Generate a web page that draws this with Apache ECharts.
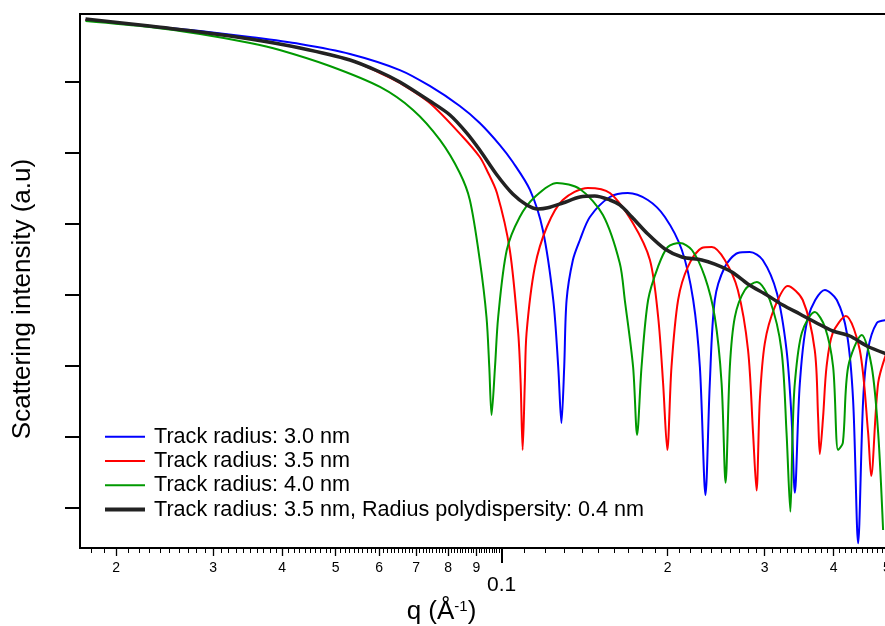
<!DOCTYPE html>
<html>
<head>
<meta charset="utf-8">
<script src="https://cdn.jsdelivr.net/npm/echarts@6/dist/echarts.min.js"></script>
<style>
  html, body { margin: 0; padding: 0; background: #fff; }
  #chart { width: 885px; height: 626px; }
</style>
</head>
<body>
<div id="chart"></div>
<script>
// Scattering curves of latent ion tracks: [q (1/Å), intensity (a.u.)]
const seriesNames = [
  'Track radius: 3.0 nm',
  'Track radius: 3.5 nm',
  'Track radius: 4.0 nm',
  'Track radius: 3.5 nm, Radius polydispersity: 0.4 nm'
];
const seriesColors = ['#0000ff', '#ff0000', '#009900', '#222222'];

const track30 = [
  [0.0176, 0.742], [0.0230, 0.611], [0.0284, 0.519], [0.0350, 0.427], [0.0431, 0.340],
  [0.0531, 0.246], [0.0654, 0.146], [0.0741, 0.0871], [0.0840, 0.0455], [0.0913, 0.0262],
  [0.0993, 0.0128], [0.1048, 0.00738], [0.1126, 0.00298], [0.1188, 0.000812], [0.1241, 8.37e-5],
  [0.1267, 9.51e-6], [0.1284, 1.54e-6], [0.1299, 9.51e-6], [0.1312, 8.37e-5], [0.1347, 3.07e-4],
  [0.1387, 5.87e-4], [0.1446, 0.00124], [0.1572, 0.00237], [0.1694, 0.00270], [0.1842, 0.00215],
  [0.1978, 0.00124], [0.2123, 4.24e-4], [0.2226, 8.37e-5], [0.2289, 9.51e-6], [0.2343, 1.49e-7],
  [0.2386, 5.66e-6], [0.2436, 8.37e-5], [0.2540, 2.44e-4], [0.2682, 3.85e-4], [0.2819, 3.98e-4],
  [0.2976, 3.07e-4], [0.3157, 1.05e-4], [0.3287, 1.65e-5], [0.3356, 1.88e-6], [0.3403, 1.61e-7],
  [0.3475, 5.66e-6], [0.3597, 4.82e-5], [0.3858, 1.16e-4], [0.4055, 8.37e-5], [0.4228, 2.87e-5],
  [0.4340, 3.26e-6], [0.4432, 3.11e-8], [0.4526, 3.26e-6], [0.4616, 1.65e-5], [0.4792, 3.97e-5],
  [0.4995, 4.37e-5]
];

const track35 = [
  [0.0176, 0.742], [0.0230, 0.611], [0.0284, 0.503], [0.0350, 0.400], [0.0431, 0.299],
  [0.0531, 0.2025], [0.0602, 0.1328], [0.0654, 0.0960], [0.0741, 0.0501], [0.0851, 0.01663],
  [0.0913, 0.00868], [0.0940, 0.00570], [0.0981, 0.00270], [0.1035, 4.24e-4], [0.1072, 2.87e-5],
  [0.1083, 5.66e-6], [0.1092, 6.43e-7], [0.1102, 5.66e-6], [0.1110, 2.87e-5], [0.1149, 2.44e-4],
  [0.1208, 8.95e-4], [0.1291, 0.00215], [0.1434, 0.00318], [0.1572, 0.00270], [0.1730, 0.00102],
  [0.1858, 3.07e-4], [0.1923, 4.82e-5], [0.1963, 5.66e-6], [0.1998, 6.43e-7], [0.2033, 9.51e-6],
  [0.2090, 8.37e-5], [0.2176, 2.44e-4], [0.2307, 4.53e-4], [0.2406, 4.68e-4], [0.2540, 3.07e-4],
  [0.2682, 1.16e-4], [0.2799, 1.65e-5], [0.2858, 1.12e-6], [0.2900, 1.72e-7], [0.2940, 3.26e-6],
  [0.3002, 2.07e-5], [0.3130, 6.67e-5], [0.3304, 1.32e-4], [0.3517, 8.37e-5], [0.3698, 1.65e-5],
  [0.3750, 1.88e-6], [0.3777, 5.64e-7], [0.3829, 1.88e-6], [0.3884, 9.51e-6], [0.3987, 2.87e-5],
  [0.4210, 4.98e-5], [0.4463, 1.65e-5], [0.4621, 1.12e-6], [0.4680, 2.76e-7], [0.4819, 5.66e-6],
  [0.4995, 1.55e-5]
];

const track40 = [
  [0.0176, 0.718], [0.0230, 0.591], [0.0284, 0.471], [0.0350, 0.3516], [0.0396, 0.280],
  [0.0488, 0.1666], [0.0602, 0.0843], [0.0691, 0.0400], [0.0773, 0.0151],
  [0.0840, 0.00517], [0.0876, 0.00215], [0.0913, 3.07e-4], [0.0939, 4.82e-5], [0.0950, 9.51e-6],
  [0.0959, 2.00e-6], [0.0973, 9.51e-6], [0.0986, 4.82e-5], [0.1022, 4.24e-4], [0.1079, 0.00124],
  [0.1149, 0.00237], [0.1260, 0.00374], [0.1387, 0.00307], [0.1527, 0.00132], [0.1638, 2.78e-4],
  [0.1673, 8.37e-5], [0.1732, 9.51e-6], [0.1761, 1.05e-6], [0.1794, 9.51e-6], [0.1844, 8.37e-5],
  [0.1921, 2.44e-4], [0.2002, 4.68e-4], [0.2105, 5.32e-4], [0.2214, 4.24e-4], [0.2337, 1.77e-4],
  [0.2436, 4.82e-5], [0.2506, 5.66e-6], [0.2548, 2.22e-7], [0.2594, 9.51e-6], [0.2649, 4.82e-5],
  [0.2762, 1.16e-4], [0.2904, 1.50e-4], [0.3065, 8.37e-5], [0.3218, 1.65e-5], [0.3287, 1.12e-6],
  [0.3340, 8.67e-8], [0.3371, 1.12e-6], [0.3403, 5.66e-6], [0.3503, 2.87e-5], [0.3698, 5.67e-5],
  [0.3858, 3.48e-5], [0.3993, 9.51e-6], [0.4076, 6.43e-7], [0.4158, 8.07e-7], [0.4251, 9.51e-6],
  [0.4500, 2.69e-5], [0.4692, 9.51e-6], [0.4819, 1.12e-6], [0.4919, 4.79e-8]
];

const track35Poly = [
  [0.0176, 0.766], [0.0230, 0.611], [0.0284, 0.503], [0.0350, 0.400], [0.0431, 0.299],
  [0.0531, 0.2025], [0.0602, 0.1371], [0.0654, 0.0991], [0.0741, 0.0535], [0.0806, 0.0340],
  [0.0865, 0.0189], [0.0913, 0.0109], [0.0981, 0.00484], [0.1048, 0.00261], [0.1111, 0.00183],
  [0.1164, 0.00161], [0.1213, 0.00167], [0.1291, 0.00195], [0.1387, 0.00237], [0.1476, 0.00245],
  [0.1572, 0.00215], [0.1638, 0.00183], [0.1723, 0.00124], [0.1842, 7.13e-4], [0.1978, 4.38e-4],
  [0.2123, 3.38e-4], [0.2307, 3.07e-4], [0.2436, 2.69e-4], [0.2616, 2.08e-4], [0.2796, 1.41e-4],
  [0.3027, 9.84e-5], [0.3236, 7.11e-5], [0.3475, 5.31e-5], [0.3726, 3.97e-5], [0.3987, 3.06e-5],
  [0.4281, 2.60e-5], [0.4596, 1.88e-5], [0.4995, 1.45e-5]
];

// Axis ticks
const xLabelValues = [0.02, 0.03, 0.04, 0.05, 0.06, 0.07, 0.08, 0.09, 0.2, 0.3, 0.4, 0.5];
const xLabelTexts = ['2', '3', '4', '5', '6', '7', '8', '9', '2', '3', '4', '5'];
const xDecadeValue = [0.1];
const xDecadeText = ['0.1'];
const yTickValues = [1e-7, 1e-6, 1e-5, 1e-4, 1e-3, 1e-2, 1e-1];

const xRange = [0.0172, 0.5];
const yRange = [2.67e-8, 0.901];

// minor ticks every 0.001 below 0.1 and every 0.01 above it
const xMinorTicks = [];
for (let k = 17; k < 100; k++) xMinorTicks.push(k / 1000);
for (let k = 10; k <= 50; k++) xMinorTicks.push(k / 100);

const FONT = '"Liberation Sans", Arial, Helvetica, sans-serif';
const INK = '#000';

function labelFor(values, texts) {
  return function (v) {
    const i = values.findIndex(t => Math.abs(t - v) < t * 1e-6);
    return i >= 0 ? texts[i] : '';
  };
}

const baseX = {
  type: 'log',
  logBase: 10,
  min: xRange[0],
  max: xRange[1],
  position: 'bottom',
  gridIndex: 0,
  splitLine: { show: false },
  minorTick: { show: false },
  minorSplitLine: { show: false }
};

const chart = echarts.init(document.getElementById('chart'), null, { renderer: 'canvas' });

const curves = [track30, track35, track40, track35Poly];

chart.setOption({
  animation: false,
  backgroundColor: '#fff',
  grid: {
    left: 80, right: -2, top: 14, bottom: 78,
    show: true, borderColor: INK, borderWidth: 2,
    outerBoundsMode: 'none', containLabel: false
  },
  xAxis: [
    Object.assign({}, baseX, {
      axisLine: { show: true, lineStyle: { color: INK, width: 2 } },
      axisTick: { show: true, customValues: xMinorTicks, length: 5, lineStyle: { color: INK, width: 1 } },
      axisLabel: { show: false }
    }),
    Object.assign({}, baseX, {
      axisLine: { show: false },
      axisTick: { show: true, customValues: xLabelValues, length: 8, lineStyle: { color: INK, width: 1.3 } },
      axisLabel: {
        show: true, customValues: xLabelValues, formatter: labelFor(xLabelValues, xLabelTexts),
        margin: 13, fontSize: 14, fontFamily: FONT, color: INK
      }
    }),
    Object.assign({}, baseX, {
      axisLine: { show: false },
      axisTick: { show: true, customValues: xDecadeValue, length: 15, lineStyle: { color: INK, width: 2 } },
      axisLabel: {
        show: true, customValues: xDecadeValue, formatter: labelFor(xDecadeValue, xDecadeText),
        margin: 27, fontSize: 21, fontFamily: FONT, color: INK
      }
    })
  ],
  yAxis: {
    type: 'log',
    logBase: 10,
    min: yRange[0],
    max: yRange[1],
    axisLine: { show: true, lineStyle: { color: INK, width: 2 } },
    axisTick: { show: true, customValues: yTickValues, length: 15, lineStyle: { color: INK, width: 2 } },
    axisLabel: { show: false },
    splitLine: { show: false },
    minorTick: { show: false }
  },
  legend: {
    orient: 'vertical',
    left: 103,
    top: 424.5,
    padding: 0,
    itemGap: 0,
    itemWidth: 40,
    itemHeight: 14,
    selectedMode: false,
    itemStyle: { opacity: 0, borderWidth: 0 },
    textStyle: { fontSize: 21.6, fontFamily: FONT, color: INK, lineHeight: 24.3, padding: [0, 0, 0, 4] },
    data: seriesNames.map((n, i) => ({
      name: n,
      itemStyle: { opacity: 0, borderWidth: 0 },
      lineStyle: { width: i === 3 ? 4 : 2, color: seriesColors[i] }
    }))
  },
  graphic: [
    {
      type: 'text', x: 23, y: 299, rotation: Math.PI / 2,
      style: {
        text: 'Scattering intensity (a.u)', fontSize: 26, fontFamily: FONT,
        fill: INK, align: 'center', verticalAlign: 'middle'
      }
    },
    {
      type: 'text', x: 441.5, y: 612,
      style: {
        text: '{a|q (Å}{s|-1}{a|)}',
        align: 'center', verticalAlign: 'middle', fill: INK,
        rich: {
          a: { fontSize: 26, fontFamily: FONT, fill: INK },
          s: { fontSize: 15, fontFamily: FONT, fill: INK, verticalAlign: 'top' }
        }
      }
    }
  ],
  series: curves.map((d, i) => ({
    name: seriesNames[i],
    type: 'line',
    xAxisIndex: 0,
    yAxisIndex: 0,
    data: d,
    symbol: 'none',
    showSymbol: false,
    smooth: 0.3,
    clip: true,
    z: i === 3 ? 5 : 2,
    lineStyle: { width: i === 3 ? 3.5 : 2, color: seriesColors[i] },
    itemStyle: { color: seriesColors[i] },
    emphasis: { disabled: true }
  }))
});
</script>
</body>
</html>
